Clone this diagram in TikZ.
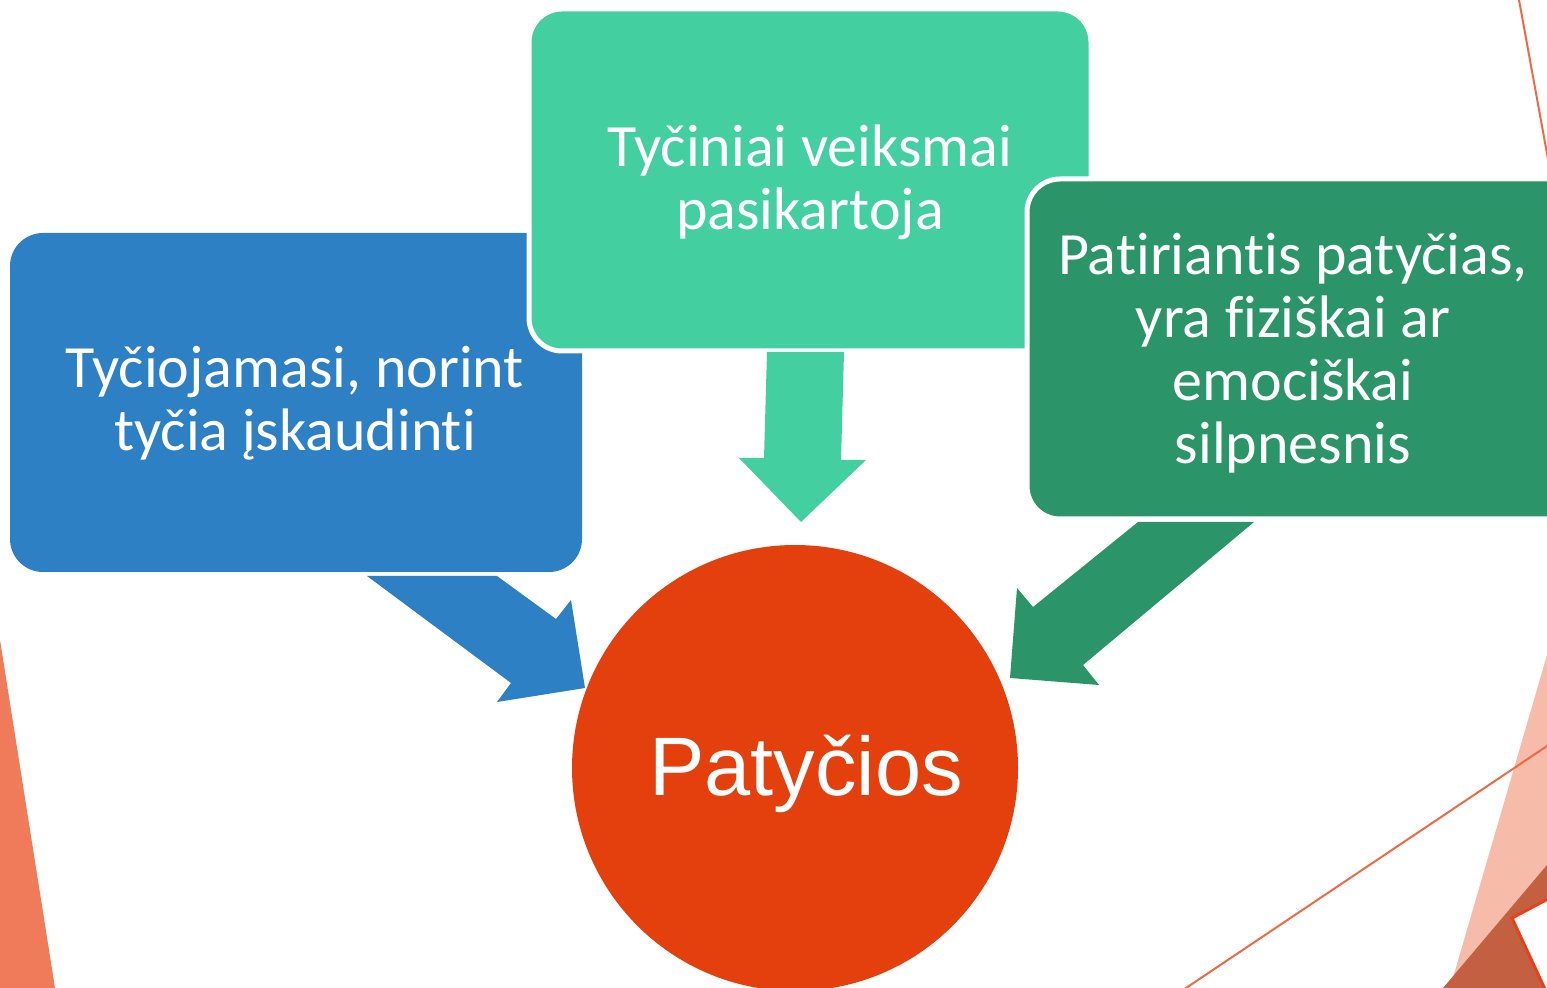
\documentclass[tikz,border=0pt]{standalone}
\usepackage{fontspec}
\setmainfont[Ligatures=NoCommon]{Carlito}
\newfontfamily\arialf{Liberation Sans}
\definecolor{cblue}{HTML}{2C80C3}
\definecolor{cteal}{HTML}{43CFA0}
\definecolor{cgreen}{HTML}{2C9469}
\definecolor{corange}{HTML}{E3400E}
\definecolor{ctri}{HTML}{EF7B5A}
\definecolor{cline}{HTML}{EE6A45}
\definecolor{cpink}{HTML}{F6BBA9}
\definecolor{cbrown}{HTML}{C46042}
\definecolor{cred}{HTML}{E8401C}
\tikzset{
  boxtext/.style={text=white, align=center, font=\fontsize{30}{31.5}\selectfont},
  stepbox/.style={rounded corners=16.5pt},
  whiteedge/.style={draw=white, line width=2.5pt}
}
\begin{document}
\begin{tikzpicture}[x=0.5pt,y=-0.5pt]
\clip (0,0) rectangle (1547,988);
\fill[white] (0,0) rectangle (1547,988);
% background decorations
\fill[ctri] (0,640) -- (55,988) -- (0,988) -- cycle;
\draw[cline, line width=1pt] (1519,0) -- (1550,170);
\fill[cpink] (1547,655) -- (1547,988) -- (1450,988) -- cycle;
\fill[cbrown] (1547,865) -- (1547,988) -- (1443,988) -- cycle;
\draw[cline, line width=1pt] (1183,990) -- (1550,744);
\filldraw[fill=white, draw=cred, line width=1.5pt] (1512,918) -- (1580,882) -- (1620,960) -- (1550,1000) -- cycle;
% boxes
\fill[cblue, stepbox] (10,233) rectangle (582,572);
\node[boxtext] (b1) at (295,403) {Tyčiojamasi, norint\\tyčia įskaudinti};
\filldraw[fill=cteal, whiteedge, stepbox] (529,9) rectangle (1091,351);
\node[boxtext] (b2) at (810,182) {Tyčiniai veiksmai\\pasikartoja};
\filldraw[fill=cgreen, whiteedge, stepbox] (1027,179) rectangle (1582,519);
\node[boxtext] (b3) at (1293,353) {Patiriantis patyčias,\\yra fiziškai ar\\emociškai\\silpnesnis};
% circle
\fill[corange] (795,768) circle [radius=223];
\coordinate (cc) at (795,768);
\node[anchor=base, text=white, font=\arialf\fontsize{41.5}{48}\selectfont] (c) at (806,795) {Patyčios};
% block arrows
\fill[cblue] (367,576) -- (497,576) -- (556,619) -- (571,600) -- (585,688) -- (497,702) -- (511,683) -- cycle;
\fill[cteal] (767,352) -- (844,352) -- (841,460) -- (866,460) -- (801,522) -- (739,458) -- (764,458) -- cycle;
\fill[cgreen] (1138,522) -- (1254,522) -- (1083,665) -- (1099,685) -- (1010,678) -- (1017,588) -- (1033,607) -- cycle;
\end{tikzpicture}
\end{document}
